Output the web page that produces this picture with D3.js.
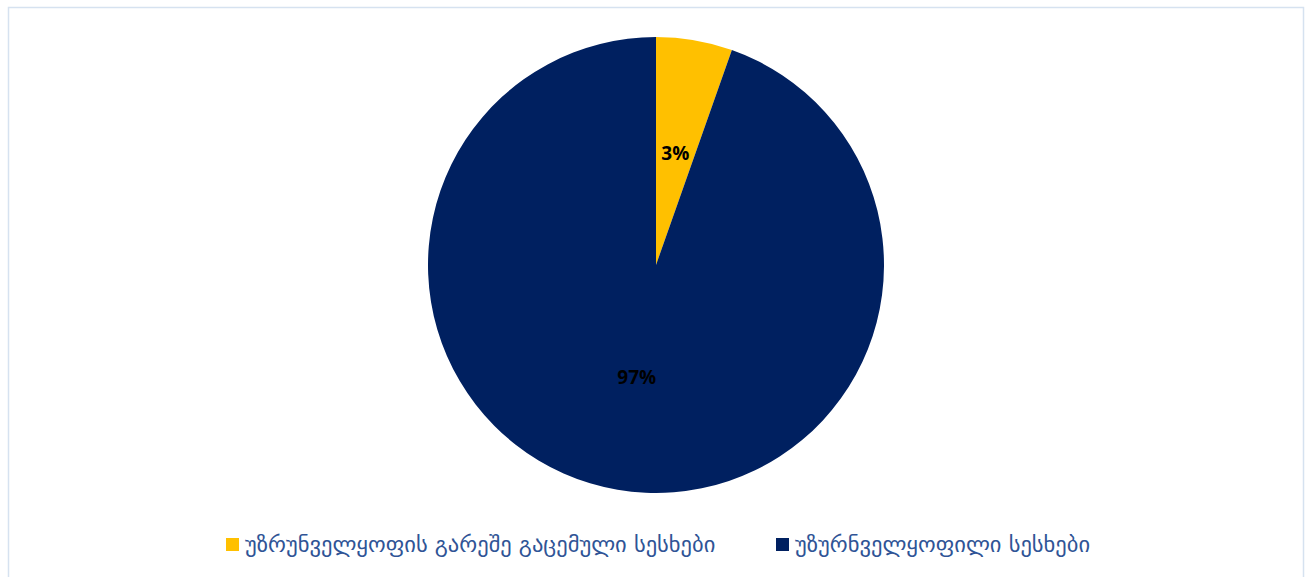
<!DOCTYPE html>
<html>
<head>
<meta charset="utf-8">
<script src="https://cdn.jsdelivr.net/npm/d3@7"></script>
<style>
  body { margin: 0; background: #ffffff; }
  svg { display: block; }
</style>
</head>
<body>
<div id="chart"></div>
<script>
const width = 1305;
const height = 577;

// slice data (slice sizes as drawn, labels as printed)
const categories = [
  "უზრუნველყოფის გარეშე გაცემული სესხები",
  "უზურნველყოფილი სესხები"
];
const values = [5.4, 94.6];
const value_labels = ["3%", "97%"];
const colors = ["#FFC000", "#002060"];

const center = {x: 656, y: 265};
const radius = 228;

const svg = d3.select("#chart")
  .append("svg")
    .attr("width", width)
    .attr("height", height);

// outer frame
svg.append("rect")
  .attr("x", 8.5)
  .attr("y", 7.5)
  .attr("width", 1295)
  .attr("height", 600)
  .attr("fill", "none")
  .attr("stroke", "#d6e2f0")
  .attr("stroke-width", 1.5);

const pie = d3.pie().sort(null).value(d => d)(values);
const arc = d3.arc().innerRadius(0).outerRadius(radius);
const label_arc = d3.arc().innerRadius(radius * 0.5).outerRadius(radius * 0.5);

const g = svg.append("g")
  .attr("transform", "translate(" + center.x + "," + center.y + ")");

g.selectAll("path")
  .data(pie)
  .join("path")
    .attr("d", arc)
    .attr("fill", (d, i) => colors[i]);

g.selectAll("text")
  .data(pie)
  .join("text")
    .attr("transform", d => "translate(" + label_arc.centroid(d) + ")")
    .attr("text-anchor", "middle")
    .attr("dominant-baseline", "central")
    .attr("font-family", "Open Sans, Liberation Sans, sans-serif")
    .attr("font-weight", "bold")
    .attr("font-size", 19)
    .attr("fill", "#000000")
    .text((d, i) => value_labels[i]);

// legend
const legend_x = [226, 776];
const legend = svg.append("g")
  .selectAll("g")
  .data(categories)
  .join("g")
    .attr("transform", (d, i) => "translate(" + legend_x[i] + ",538)");

legend.append("rect")
  .attr("width", 13)
  .attr("height", 13)
  .attr("fill", (d, i) => colors[i]);

legend.append("text")
  .attr("x", 19)
  .attr("y", 14)
  .attr("font-family", "DejaVu Sans, sans-serif")
  .attr("font-size", 22.5)
  .attr("fill", "#2f5496")
  .text(d => d);
</script>
</body>
</html>
